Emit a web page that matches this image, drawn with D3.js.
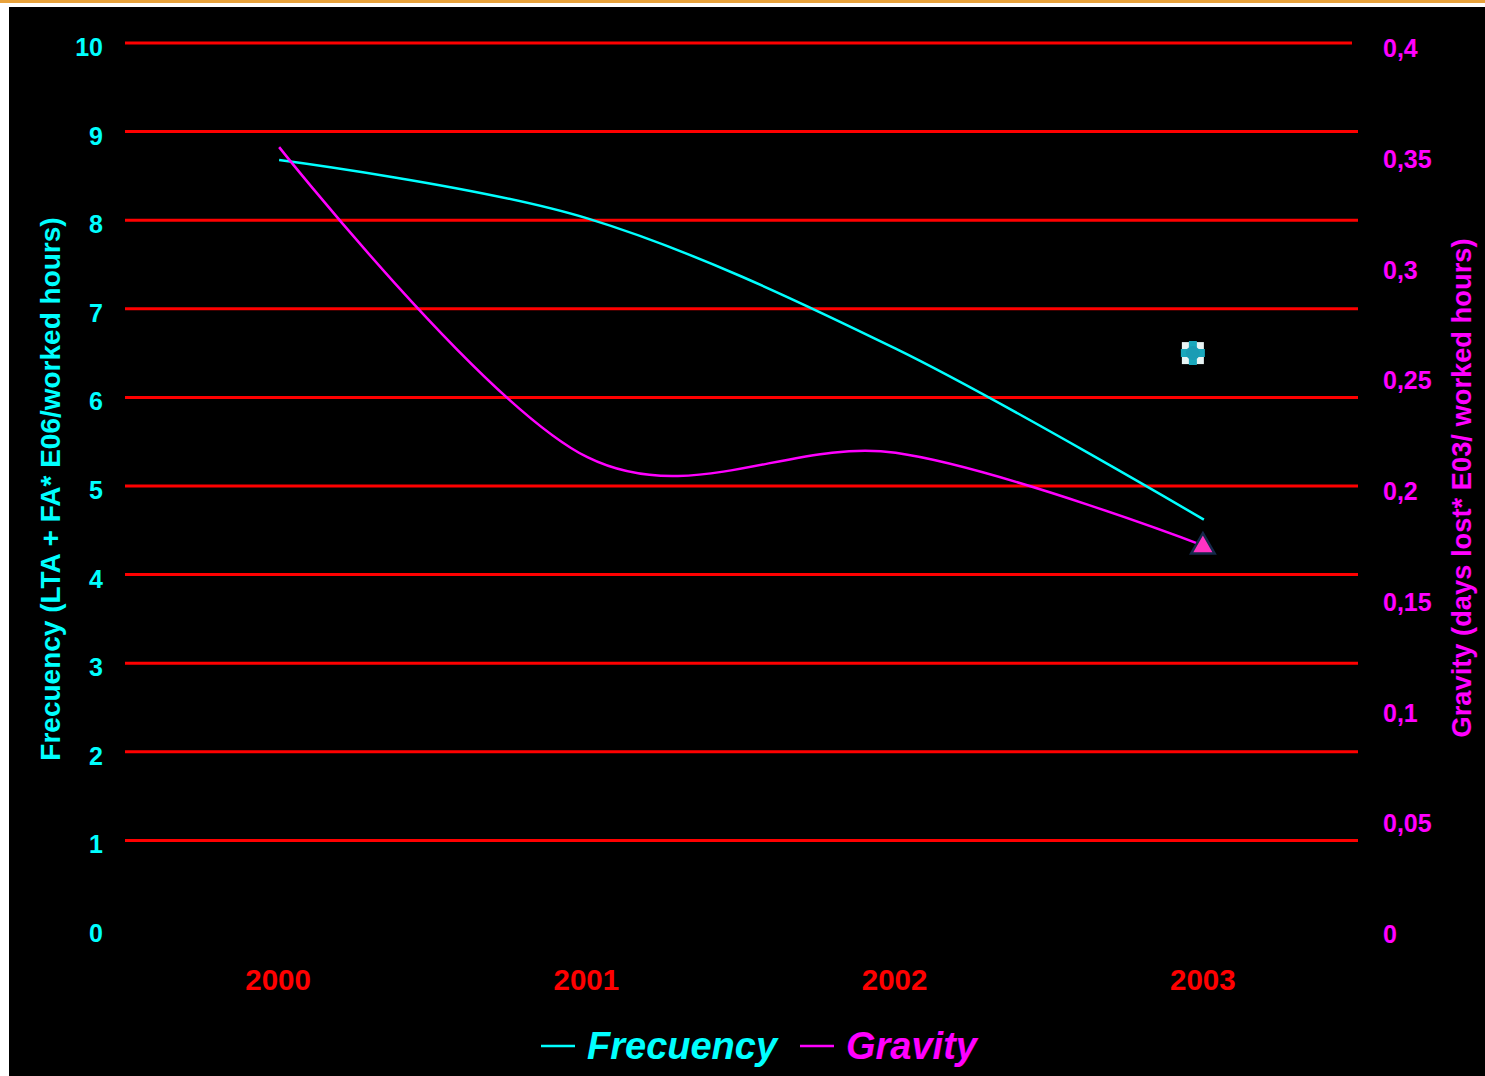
<!DOCTYPE html>
<html>
<head>
<meta charset="utf-8">
<script src="https://cdn.jsdelivr.net/npm/d3@7"></script>
<style>
  html, body { margin: 0; padding: 0; background: #fff; }
  svg { display: block; }
</style>
</head>
<body>
<div id="chart"></div>
<script>
// Data
const years = ['2000', '2001', '2002', '2003'];
const frecuency = [8.68, 8.02, 6.55, 4.62];
const gravity = [0.353, 0.213, 0.215, 0.173];
const leftTicks = [0, 1, 2, 3, 4, 5, 6, 7, 8, 9, 10];
const rightTicks = [0, 0.05, 0.1, 0.15, 0.2, 0.25, 0.3, 0.35, 0.4];
// stray marker left in the original chart (left axis value, category)
const strayMarker = { year: '2003', value: 6.5 };

const width = 1485;
const height = 1076;
const plot = { left: 125, right: 1358, top: 43, bottom: 929 };

const svg = d3.select('#chart')
    .append('svg')
    .attr('width', width)
    .attr('height', height);

// Frame: orange strip on top, black panel
svg.append('rect').attr('x', 0).attr('y', 0).attr('width', width).attr('height', 3).attr('fill', '#e8a23c');
svg.append('rect').attr('x', 9).attr('y', 7).attr('width', width - 9).attr('height', height - 7).attr('fill', '#000');

// Scales
const x = d3.scaleBand().domain(years).range([plot.left, plot.right]);
const yLeft = d3.scaleLinear().domain([0, 10]).range([plot.bottom, plot.top]);
const yRight = d3.scaleLinear().domain([0, 0.4]).range([plot.bottom, plot.top]);
const cx = d => x(d) + x.bandwidth() / 2;

// Gridlines (no line at zero)
svg.append('g')
    .selectAll('line')
    .data(leftTicks.filter(d => d > 0))
    .enter()
    .append('line')
    .attr('x1', plot.left)
    .attr('x2', d => d === 10 ? plot.right - 6 : plot.right)
    .attr('y1', d => yLeft(d))
    .attr('y2', d => yLeft(d))
    .attr('stroke', '#ff0000')
    .attr('stroke-width', 3);

const fontFamily = '"Liberation Sans", Arial, sans-serif';

// Left axis labels
svg.append('g')
    .selectAll('text')
    .data(leftTicks)
    .enter()
    .append('text')
    .attr('x', 103)
    .attr('y', d => yLeft(d) + 13)
    .attr('text-anchor', 'end')
    .attr('font-family', fontFamily)
    .attr('font-weight', 'bold')
    .attr('font-size', '25px')
    .attr('fill', '#00ffff')
    .text(d => d);

// Right axis labels
const commaFmt = d => String(d).replace('.', ',');
svg.append('g')
    .selectAll('text')
    .data(rightTicks)
    .enter()
    .append('text')
    .attr('x', 1383)
    .attr('y', d => yRight(d) + 14)
    .attr('text-anchor', 'start')
    .attr('font-family', fontFamily)
    .attr('font-weight', 'bold')
    .attr('font-size', '25px')
    .attr('fill', '#ff00ff')
    .text(commaFmt);

// X axis labels
svg.append('g')
    .selectAll('text')
    .data(years)
    .enter()
    .append('text')
    .attr('x', d => cx(d) - 1)
    .attr('y', 990)
    .attr('text-anchor', 'middle')
    .attr('font-family', fontFamily)
    .attr('font-weight', 'bold')
    .attr('font-size', '29.5px')
    .attr('fill', '#ff0000')
    .text(d => d);

// Axis titles
svg.append('text')
    .attr('transform', `translate(60, 489) rotate(-90)`)
    .attr('text-anchor', 'middle')
    .attr('font-family', fontFamily)
    .attr('font-weight', 'bold')
    .attr('font-size', '28px')
    .attr('fill', '#00ffff')
    .text('Frecuency (LTA + FA* E06/worked hours)');

svg.append('text')
    .attr('transform', `translate(1471, 488) rotate(-90)`)
    .attr('text-anchor', 'middle')
    .attr('font-family', fontFamily)
    .attr('font-weight', 'bold')
    .attr('font-size', '27.3px')
    .attr('fill', '#ff00ff')
    .text('Gravity (days lost* E03/ worked hours)');

// Smoothed lines
const freqLine = d3.line()
    .x((d, i) => cx(years[i]))
    .y(d => yLeft(d))
    .curve(d3.curveCatmullRom.alpha(0));

const gravLine = d3.line()
    .x((d, i) => cx(years[i]))
    .y(d => yRight(d))
    .curve(d3.curveCatmullRom.alpha(0));

svg.append('path')
    .datum(frecuency)
    .attr('d', freqLine)
    .attr('fill', 'none')
    .attr('stroke', '#00ffff')
    .attr('stroke-width', 2.5);

svg.append('path')
    .datum(gravity)
    .attr('d', gravLine)
    .attr('fill', 'none')
    .attr('stroke', '#ff00ff')
    .attr('stroke-width', 2.5);

// Triangle marker on last gravity point
const last = years.length - 1;
svg.append('path')
    .attr('d', d3.symbol().type(d3.symbolTriangle).size(240)())
    .attr('transform', `translate(${cx(years[last]) - 1}, ${yRight(gravity[last]) + 1})`)
    .attr('fill', '#ff33c4')
    .attr('stroke', '#14284a')
    .attr('stroke-width', 2.5);

// Stray square marker
const sx = cx(strayMarker.year) - 11;
const sy = yLeft(strayMarker.value);
svg.append('rect')
    .attr('x', sx - 11)
    .attr('y', sy - 11)
    .attr('width', 22)
    .attr('height', 22)
    .attr('fill', '#e8f4f4');
svg.append('path')
    .attr('d', d3.symbol().type(d3.symbolCross).size(320)())
    .attr('transform', `translate(${sx}, ${sy})`)
    .attr('fill', '#1aa8bc');
svg.append('circle')
    .attr('cx', sx)
    .attr('cy', sy)
    .attr('r', 7)
    .attr('fill', '#1a9cb4');

// Legend
const legend = svg.append('g').attr('font-family', fontFamily)
    .attr('font-weight', 'bold')
    .attr('font-style', 'italic')
    .attr('font-size', '38px');

const legendItems = [
    { label: 'Frecuency', color: '#00ffff', x: 541 },
    { label: 'Gravity', color: '#ff00ff', x: 800 }
];

legendItems.forEach(item => {
    legend.append('line')
        .attr('x1', item.x)
        .attr('x2', item.x + 34)
        .attr('y1', 1046)
        .attr('y2', 1046)
        .attr('stroke', item.color)
        .attr('stroke-width', 2.5);
    legend.append('text')
        .attr('x', item.x + 46)
        .attr('y', 1059)
        .attr('fill', item.color)
        .text(item.label);
});
</script>
</body>
</html>
